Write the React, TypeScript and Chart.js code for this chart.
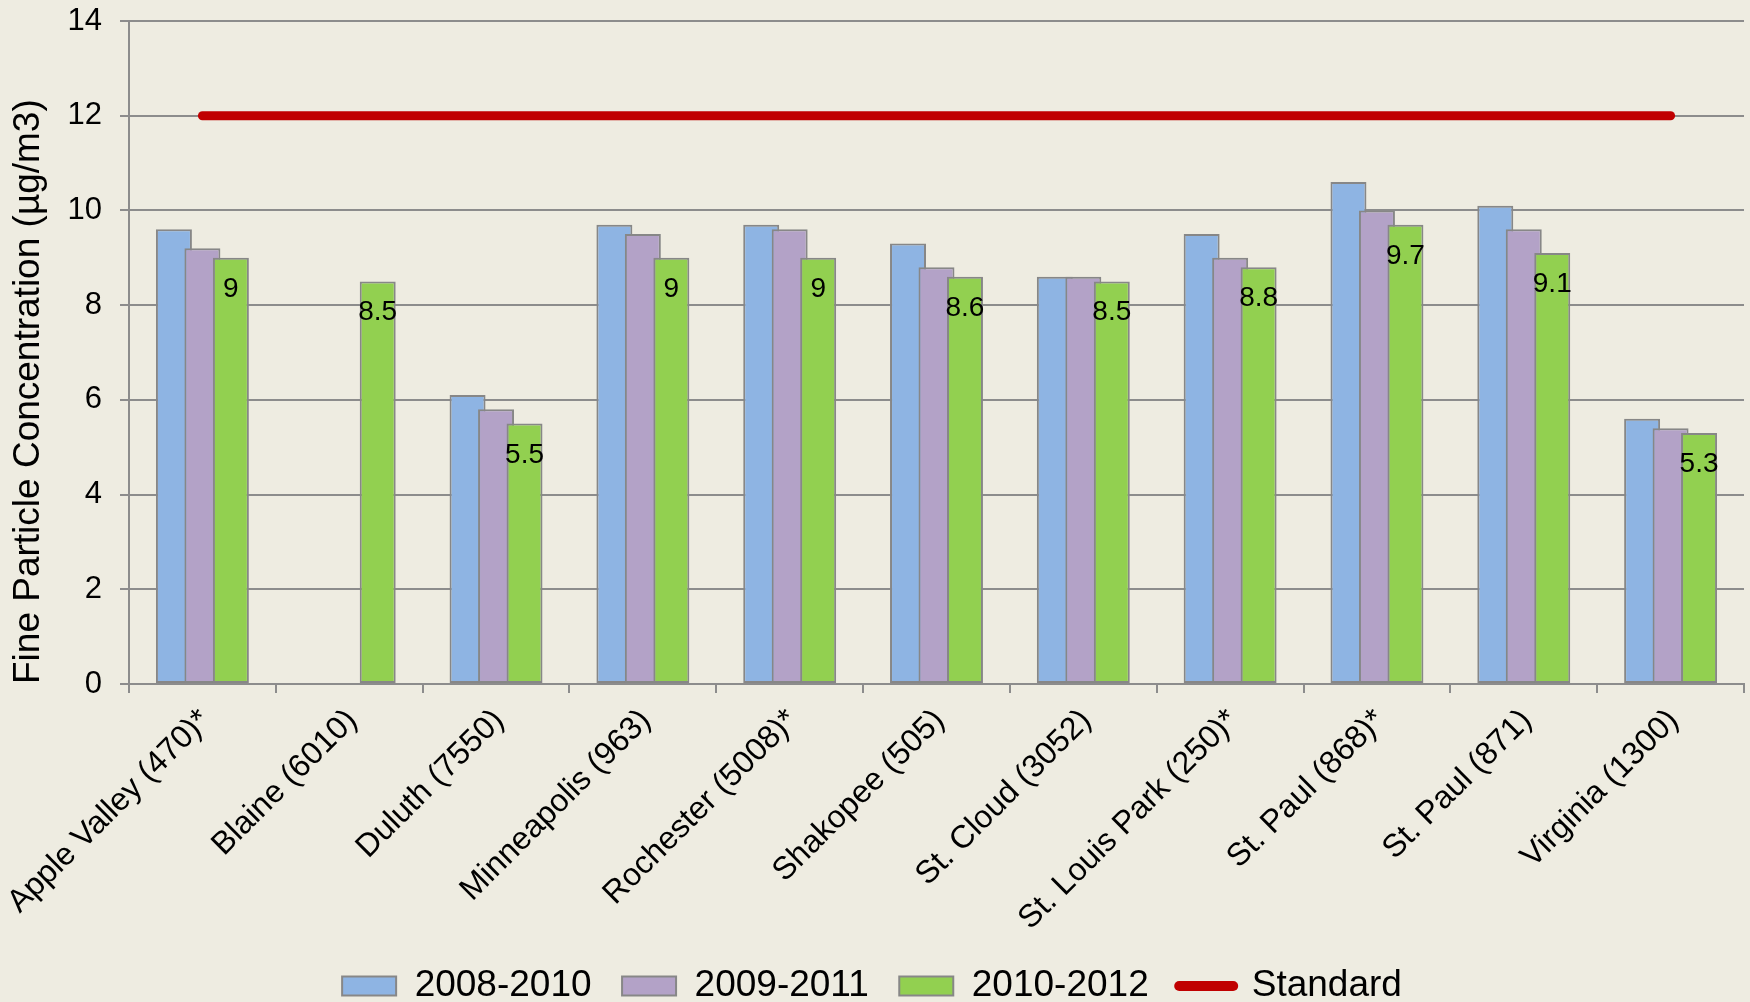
import React, { useEffect, useRef } from "react";
import { Chart, registerables } from "chart.js";

Chart.register(...registerables);

// Monitoring sites (site id in parentheses)
const sites = [
  "Apple Valley (470)*",
  "Blaine (6010)",
  "Duluth (7550)",
  "Minneapolis (963)",
  "Rochester (5008)*",
  "Shakopee (505)",
  "St. Cloud (3052)",
  "St. Louis Park (250)*",
  "St. Paul (868)*",
  "St. Paul (871)",
  "Virginia (1300)",
];

// Three-year average fine particle concentrations (µg/m3)
const avg2008to2010 = [9.6, null, 6.1, 9.7, 9.7, 9.3, 8.6, 9.5, 10.6, 10.1, 5.6];
const avg2009to2011 = [9.2, null, 5.8, 9.5, 9.6, 8.8, 8.6, 9.0, 10.0, 9.6, 5.4];
const avg2010to2012 = [9.0, 8.5, 5.5, 9.0, 9.0, 8.6, 8.5, 8.8, 9.7, 9.1, 5.3];

// Annual standard
const standard = [12, 12, 12, 12, 12, 12, 12, 12, 12, 12, 12];

const seriesNames = ["2008-2010", "2009-2011", "2010-2012", "Standard"];
const yMin = 0;
const yMax = 14;
const yStep = 2;
const yTitle = "Fine Particle Concentration (µg/m3)";

const FONT = "'Liberation Sans', Arial, Helvetica, sans-serif";
const GRID = "#8c8c8c";
const BAR_EDGE = "#878787";

// Draw datasets first-to-last so each later bar overlaps the one on its left
const drawInSeriesOrder = {
  id: "drawInSeriesOrder",
  beforeDatasetsDraw(chart: any) {
    const metas = chart.getSortedVisibleDatasetMetas();
    for (const meta of metas) chart._drawDataset(meta);
    return false;
  },
};

// Value labels inside the top of the latest-period bars
const latestValueLabels = {
  id: "latestValueLabels",
  afterDraw(chart: any) {
    const meta = chart.getDatasetMeta(2);
    const ctx = chart.ctx;
    ctx.save();
    ctx.font = `28px ${FONT}`;
    ctx.fillStyle = "#000";
    ctx.textAlign = "center";
    ctx.textBaseline = "alphabetic";
    meta.data.forEach((bar: any, i: number) => {
      const v = avg2010to2012[i];
      if (v === null || v === undefined) return;
      ctx.fillText(String(v), bar.x, bar.y + 39);
    });
    ctx.restore();
  },
};

export default function App() {
  const canvasRef = useRef<HTMLCanvasElement | null>(null);

  useEffect(() => {
    const canvas = canvasRef.current;
    if (!canvas) return;

    const barCommon = {
      type: "bar" as const,
      borderColor: BAR_EDGE,
      borderWidth: 2,
      borderSkipped: false,
      categoryPercentage: 0.582,
      barPercentage: 1.263,
      pointStyle: "rect",
    };

    const chart = new Chart(canvas, {
      type: "bar",
      data: {
        labels: sites,
        datasets: [
          { ...barCommon, label: seriesNames[0], data: avg2008to2010, backgroundColor: "#8eb4e3" },
          { ...barCommon, label: seriesNames[1], data: avg2009to2011, backgroundColor: "#b3a2c7" },
          { ...barCommon, label: seriesNames[2], data: avg2010to2012, backgroundColor: "#92d050" },
          {
            type: "line",
            label: seriesNames[3],
            data: standard,
            borderColor: "#c00000",
            backgroundColor: "#c00000",
            borderWidth: 9,
            borderCapStyle: "round",
            fill: false,
            pointRadius: 0,
            pointHoverRadius: 0,
            pointStyle: "line",
            pointBorderWidth: 10,
            pointBorderColor: "#c00000",
            pointBackgroundColor: "#c00000",
          } as any,
        ],
      },
      options: {
        animation: false,
        responsive: false,
        devicePixelRatio: 1,
        layout: { padding: { top: 21, right: 6, bottom: 0, left: 0 } },
        plugins: {
          tooltip: { enabled: false },
          legend: {
            position: "bottom",
            maxHeight: 65,
            labels: {
              usePointStyle: true,
              pointStyleWidth: 54,
              boxHeight: 19,
              padding: 30.5,
              color: "#000",
              font: { family: FONT, size: 37 },
              generateLabels(chart: any) {
                const items = (Chart.defaults.plugins.legend.labels as any).generateLabels(chart);
                for (const it of items) if (it.pointStyle === "line") it.lineCap = "round";
                return items;
              },
            },
          },
        },
        scales: {
          x: {
            offset: true,
            grid: {
              display: true,
              offset: true,
              drawOnChartArea: false,
              drawTicks: true,
              tickLength: 9,
              color: GRID,
              lineWidth: 2,
            },
            border: { display: true, color: GRID, width: 2 },
            ticks: {
              autoSkip: false,
              minRotation: 45,
              maxRotation: 45,
              padding: 9,
              labelOffset: 3,
              color: "#000",
              font: { family: FONT, size: 32 },
            },
            afterFit(scale: any) {
              scale.height = 253;
              scale.paddingLeft = 0;
              scale.paddingRight = 0;
            },
          },
          y: {
            min: yMin,
            max: yMax,
            ticks: {
              stepSize: yStep,
              padding: 18,
              color: "#000",
              font: { family: FONT, size: 31 },
            },
            grid: { color: GRID, lineWidth: 2, tickLength: 9, drawTicks: true },
            border: { display: true, color: GRID, width: 2 },
            title: {
              display: true,
              text: yTitle,
              align: "start",
              color: "#000",
              font: { family: FONT, size: 37 },
              padding: { top: 7, bottom: 0 },
            },
            afterFit(scale: any) {
              scale.width = 129;
              scale.paddingTop = 0;
              scale.paddingBottom = 0;
            },
          },
        },
      } as any,
      plugins: [drawInSeriesOrder, latestValueLabels],
    });

    return () => chart.destroy();
  }, []);

  return (
    <div
      style={{
        position: "fixed",
        left: 0,
        top: 0,
        width: 1750,
        height: 1002,
        background: "#eeece1",
      }}
    >
      <canvas ref={canvasRef} width={1750} height={1002} style={{ display: "block" }} />
    </div>
  );
}
